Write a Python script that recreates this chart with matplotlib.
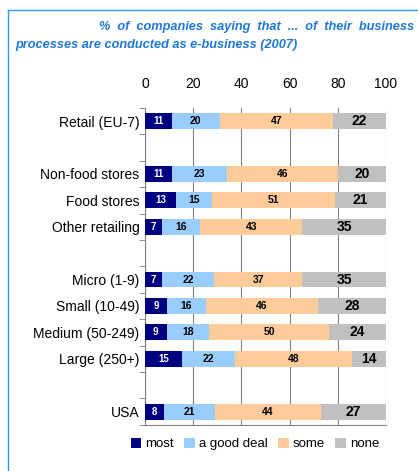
import matplotlib.pyplot as plt
import numpy as np

plt.rcParams['font.family'] = ['Liberation Sans', 'DejaVu Sans']

# rows top to bottom, '' = empty slot
categories = ['Retail (EU-7)', '', 'Non-food stores', 'Food stores', 'Other retailing', '',
              'Micro (1-9)', 'Small (10-49)', 'Medium (50-249)', 'Large (250+)', '', 'USA']
most = [11, None, 11, 13, 7, None, 7, 9, 9, 15, None, 8]
good_deal = [20, None, 23, 15, 16, None, 22, 16, 18, 22, None, 21]
some = [47, None, 46, 51, 43, None, 37, 46, 50, 48, None, 44]
none_ = [22, None, 20, 21, 35, None, 35, 28, 24, 14, None, 27]

series = [('most', most, '#000080'), ('a good deal', good_deal, '#99CCFF'),
          ('some', some, '#FFCC99'), ('none', none_, '#C0C0C0')]

# rounded shares do not always add to 100; bars are drawn as 100 % stacks
totals = np.array([sum(0 if s[1][i] is None else s[1][i] for s in series)
                   for i in range(len(categories))], dtype=float)
totals[totals == 0] = 1

fig = plt.figure(figsize=(4.18, 4.71), dpi=100)
ax = fig.add_axes([0.347, 0.098, 0.576, 0.673])

y = np.arange(len(categories))
left = np.zeros(len(categories))
for name, vals, col in series:
    v = np.array([0 if x is None else x for x in vals], dtype=float) * 100 / totals
    ax.barh(y, v, left=left, height=0.6, color=col, label=name, zorder=3)
    for i, val in enumerate(vals):
        if val is None:
            continue
        cx = left[i] + v[i] / 2
        if name == 'most':
            ax.text(cx, i, str(val), ha='center', va='center', color='white',
                    fontsize=7, fontweight='bold', zorder=4)
        elif name == 'none':
            ax.text(cx, i, str(val), ha='center', va='center', color='black',
                    fontsize=10, fontweight='bold', zorder=4)
        else:
            ax.text(cx, i, str(val), ha='center', va='center', color='black',
                    fontsize=7.5, fontweight='bold', zorder=4)
    left += v

ax.set_xlim(0, 100)
ax.set_ylim(len(categories) - 0.5, -0.5)
ax.set_xticks([0, 20, 40, 60, 80, 100])
ax.xaxis.tick_top()
ax.tick_params(axis='x', labelsize=10, length=0, pad=12)
ax.set_yticks(y)
ax.set_yticklabels(categories, fontsize=10)
ax.tick_params(axis='y', length=0, pad=4)
ax.set_yticks(np.arange(len(categories) + 1) - 0.5, minor=True)
ax.tick_params(axis='y', which='minor', length=4, color='#808080', direction='out')
ax.grid(axis='x', color='#808080', linewidth=0.8, zorder=0)
for s in ['top', 'right']:
    ax.spines[s].set_visible(False)
ax.spines['left'].set_color('#808080')
ax.spines['bottom'].set_color('#808080')

fig.text(0.99, 0.943, '%  of  companies  saying  that  ...  of  their  business', ha='right',
         va='center', color='#1E78D8', fontsize=9.2, fontweight='bold', style='italic')
fig.text(0.036, 0.905, 'processes are conducted as e-business (2007)', ha='left',
         va='center', color='#1E78D8', fontsize=9.2, fontweight='bold', style='italic')

fig.legend(loc='center', bbox_to_anchor=(0.61, 0.057), ncol=4, frameon=False,
           fontsize=9.5, handlelength=0.8, handleheight=0.8, handletextpad=0.3,
           columnspacing=0.8)

# blue frame
fig.add_artist(plt.Line2D([0.019, 0.019], [0, 0.979], color='#3399FF', linewidth=1))
fig.add_artist(plt.Line2D([0.019, 1.0], [0.979, 0.979], color='#3399FF', linewidth=1))

fig.savefig('out.png', dpi=100)
